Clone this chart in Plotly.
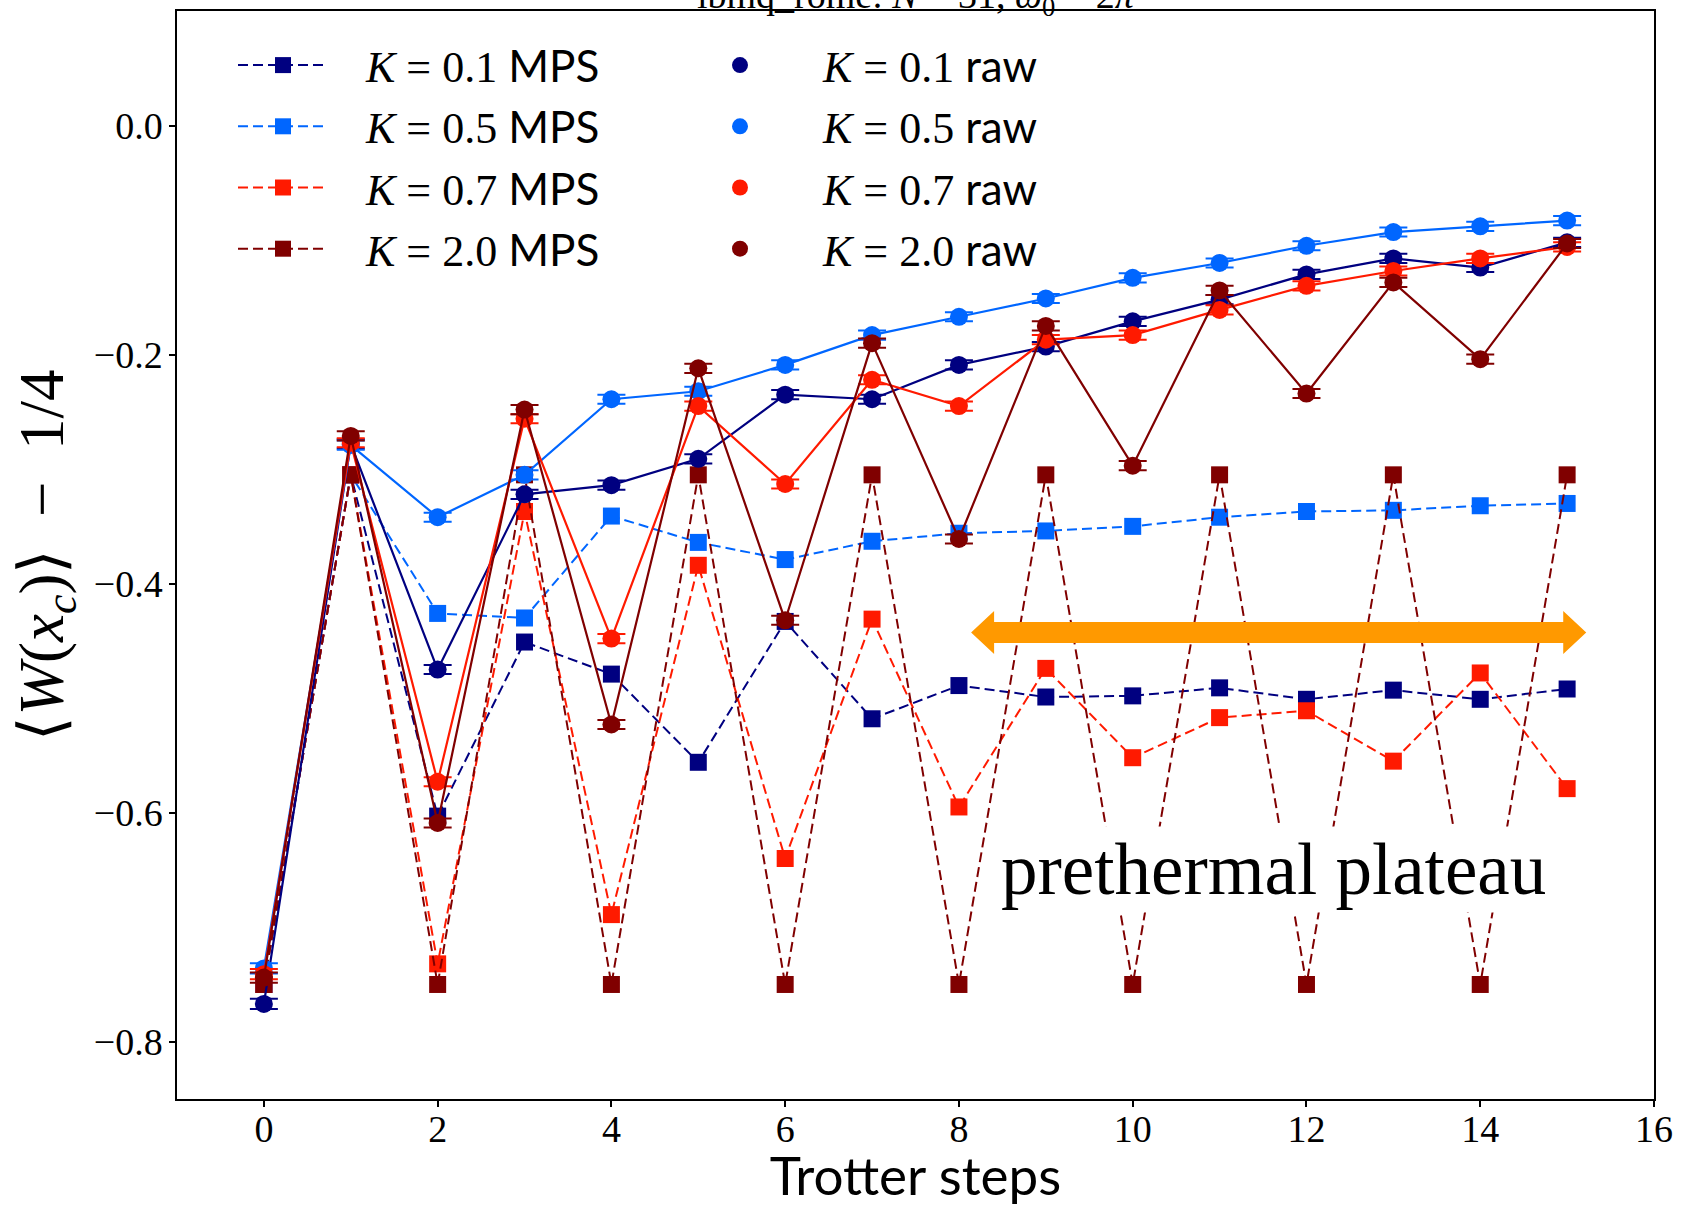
import plotly.graph_objects as go

# ---------------- data ----------------
steps = list(range(16))
k_labels = ["0.1", "0.5", "0.7", "2.0"]
colors = ["#000080", "#0066ff", "#ff1a00", "#800000"]

mps_k01 = [-0.750, -0.305, -0.603, -0.451, -0.479, -0.556, -0.433, -0.518,
           -0.489, -0.499, -0.498, -0.491, -0.501, -0.493, -0.501, -0.492]
mps_k05 = [-0.750, -0.305, -0.426, -0.430, -0.341, -0.364, -0.379, -0.363,
           -0.356, -0.354, -0.350, -0.342, -0.337, -0.336, -0.332, -0.330]
mps_k07 = [-0.750, -0.305, -0.732, -0.337, -0.689, -0.384, -0.640, -0.431,
           -0.595, -0.474, -0.552, -0.517, -0.511, -0.555, -0.478, -0.579]
mps_k20 = [-0.750, -0.305, -0.750, -0.305, -0.750, -0.305, -0.750, -0.305,
           -0.750, -0.305, -0.750, -0.305, -0.750, -0.305, -0.750, -0.305]

raw_k01 = [-0.767, -0.278, -0.475, -0.322, -0.314, -0.291, -0.235, -0.239,
           -0.209, -0.193, -0.171, -0.152, -0.130, -0.116, -0.124, -0.102]
raw_k05 = [-0.736, -0.279, -0.342, -0.305, -0.239, -0.232, -0.209, -0.183,
           -0.167, -0.151, -0.133, -0.120, -0.105, -0.093, -0.088, -0.083]
raw_k07 = [-0.741, -0.277, -0.573, -0.256, -0.448, -0.245, -0.313, -0.222,
           -0.245, -0.187, -0.183, -0.161, -0.140, -0.127, -0.116, -0.106]
raw_k20 = [-0.744, -0.271, -0.609, -0.248, -0.523, -0.212, -0.432, -0.190,
           -0.361, -0.175, -0.297, -0.144, -0.234, -0.137, -0.204, -0.103]

err_k01 = [0.0045, 0.0040, 0.0040, 0.0040, 0.0040, 0.0040, 0.0040, 0.0040,
           0.0040, 0.0040, 0.0040, 0.0040, 0.0040, 0.0040, 0.0040, 0.0040]
err_k05 = [0.0045, 0.0040, 0.0040, 0.0040, 0.0040, 0.0040, 0.0040, 0.0040,
           0.0040, 0.0040, 0.0040, 0.0040, 0.0040, 0.0040, 0.0040, 0.0040]
err_k07 = [0.0045, 0.0040, 0.0040, 0.0040, 0.0040, 0.0040, 0.0040, 0.0040,
           0.0040, 0.0040, 0.0040, 0.0040, 0.0040, 0.0040, 0.0040, 0.0040]
err_k20 = [0.0045, 0.0040, 0.0040, 0.0040, 0.0040, 0.0040, 0.0040, 0.0040,
           0.0040, 0.0040, 0.0040, 0.0040, 0.0040, 0.0040, 0.0040, 0.0040]

mps_series = [mps_k01, mps_k05, mps_k07, mps_k20]
raw_series = [raw_k01, raw_k05, raw_k07, raw_k20]
err_series = [err_k01, err_k05, err_k07, err_k20]

x_ticks = [0, 2, 4, 6, 8, 10, 12, 14, 16]
y_ticks = [-0.8, -0.6, -0.4, -0.2, 0.0]

title_text = "ibmq_rome: <i>N</i> = 31, <i>ω</i><sub>0</sub> = 2<i>π</i>"
plateau_text = "prethermal plateau"
arrow_start, arrow_end, arrow_level = 8.14, 15.22, -0.4426

# ---------------- figure ----------------
W, H = 1683, 1206
ML, MR, MT, MB = 177, 29, 11, 107
X_RANGE = [-1, 16]
Y_RANGE = [-0.85, 0.1]
SERIF = "Liberation Serif, Times New Roman, serif"
SANS = "Lato"
NB = "\u00a0"

fig = go.Figure()

for lab, col, ys in zip(k_labels, colors, mps_series):
    fig.add_trace(go.Scatter(
        x=steps, y=ys, mode="lines+markers",
        line=dict(color=col, width=2, dash="10px,5px"),
        marker=dict(symbol="square", size=17, color=col),
        name=f"{NB*3}<i>K</i> = {lab} <span style='font-family:{SANS}'>MPS</span>",
        legend="legend", legendgroup="m" + lab,
    ))

for lab, col, ys, es in zip(k_labels, colors, raw_series, err_series):
    fig.add_trace(go.Scatter(
        x=steps, y=ys, mode="lines",
        line=dict(color=col, width=2.2),
        showlegend=False, hoverinfo="skip",
    ))
    fig.add_trace(go.Scatter(
        x=steps, y=ys, mode="markers",
        marker=dict(symbol="circle", size=18, color=col),
        error_y=dict(type="data", array=es, color=col, thickness=2, width=14),
        name=f"{NB*3}<i>K</i> = {lab} <span style='font-family:{SANS}'>raw</span>",
        legend="legend2", legendgroup="r" + lab,
    ))

# orange double-headed arrow (built in data units from pixel sizes)
px_x = (W - ML - MR) / (X_RANGE[1] - X_RANGE[0])
px_y = (H - MT - MB) / (Y_RANGE[1] - Y_RANGE[0])
shaft = 10.5 / px_y
head = 21.5 / px_y
hlen = 23 / px_x
a0, a1, ay = arrow_start, arrow_end, arrow_level
path = (f"M {a0},{ay} L {a0+hlen},{ay+head} L {a0+hlen},{ay+shaft} "
        f"L {a1-hlen},{ay+shaft} L {a1-hlen},{ay+head} L {a1},{ay} "
        f"L {a1-hlen},{ay-head} L {a1-hlen},{ay-shaft} L {a0+hlen},{ay-shaft} "
        f"L {a0+hlen},{ay-head} Z")
fig.add_shape(type="path", path=path, xref="x", yref="y",
              fillcolor="#ff9900", line=dict(width=0), layer="above")

fig.add_annotation(x=11.62, y=-0.650, xref="x", yref="y", text=plateau_text,
                   showarrow=False, bgcolor="white", borderpad=2,
                   font=dict(family=SERIF, size=73, color="black"))


def paper_x(px):
    return (px - ML) / (W - ML - MR)


def paper_y(py):
    return (H - MB - py) / (H - MT - MB)


fig.add_annotation(x=0.5, y=paper_y(23), xref="paper", yref="paper",
                   xanchor="center", yanchor="bottom", text=title_text,
                   showarrow=False, borderpad=0,
                   font=dict(family=SERIF, size=38, color="black"))

axis_common = dict(showline=True, linecolor="black", linewidth=1.5, mirror=True,
                   ticks="outside", ticklen=6, tickwidth=1.5, tickcolor="black",
                   showgrid=False, zeroline=False,
                   tickfont=dict(family=SERIF, size=38, color="black"))

legend_common = dict(xanchor="left", yanchor="top", bgcolor="rgba(0,0,0,0)",
                     itemwidth=90, tracegroupgap=1, itemsizing="trace",
                     font=dict(family=SERIF, size=44, color="black"))

fig.update_layout(
    width=W, height=H,
    margin=dict(l=ML, r=MR, t=MT, b=MB, autoexpand=False),
    paper_bgcolor="white", plot_bgcolor="white",
    font=dict(family=SERIF, color="black"),
    xaxis=dict(range=X_RANGE, tickvals=x_ticks, ticklabelstandoff=-10,
               **axis_common,
               title=dict(text="Trotter steps", standoff=5,
                          font=dict(family=SANS, size=53, color="black"))),
    yaxis=dict(range=Y_RANGE, tickvals=y_ticks, tickformat=".1f",
               ticklabelstandoff=-1, **axis_common,
               title=dict(text=f"⟨<i>W</i>(<i>x<sub>c</sub></i>)⟩{NB*2}−{NB*2}1/4",
                          standoff=10,
                          font=dict(family=SERIF, size=63, color="black"))),
    legend=dict(x=paper_x(233), y=paper_y(30), **legend_common),
    legend2=dict(x=paper_x(690), y=paper_y(30), **legend_common),
    showlegend=True,
)

fig.write_html("out.html", config={"displayModeBar": False},
               post_script="document.body.style.margin='0px';")
